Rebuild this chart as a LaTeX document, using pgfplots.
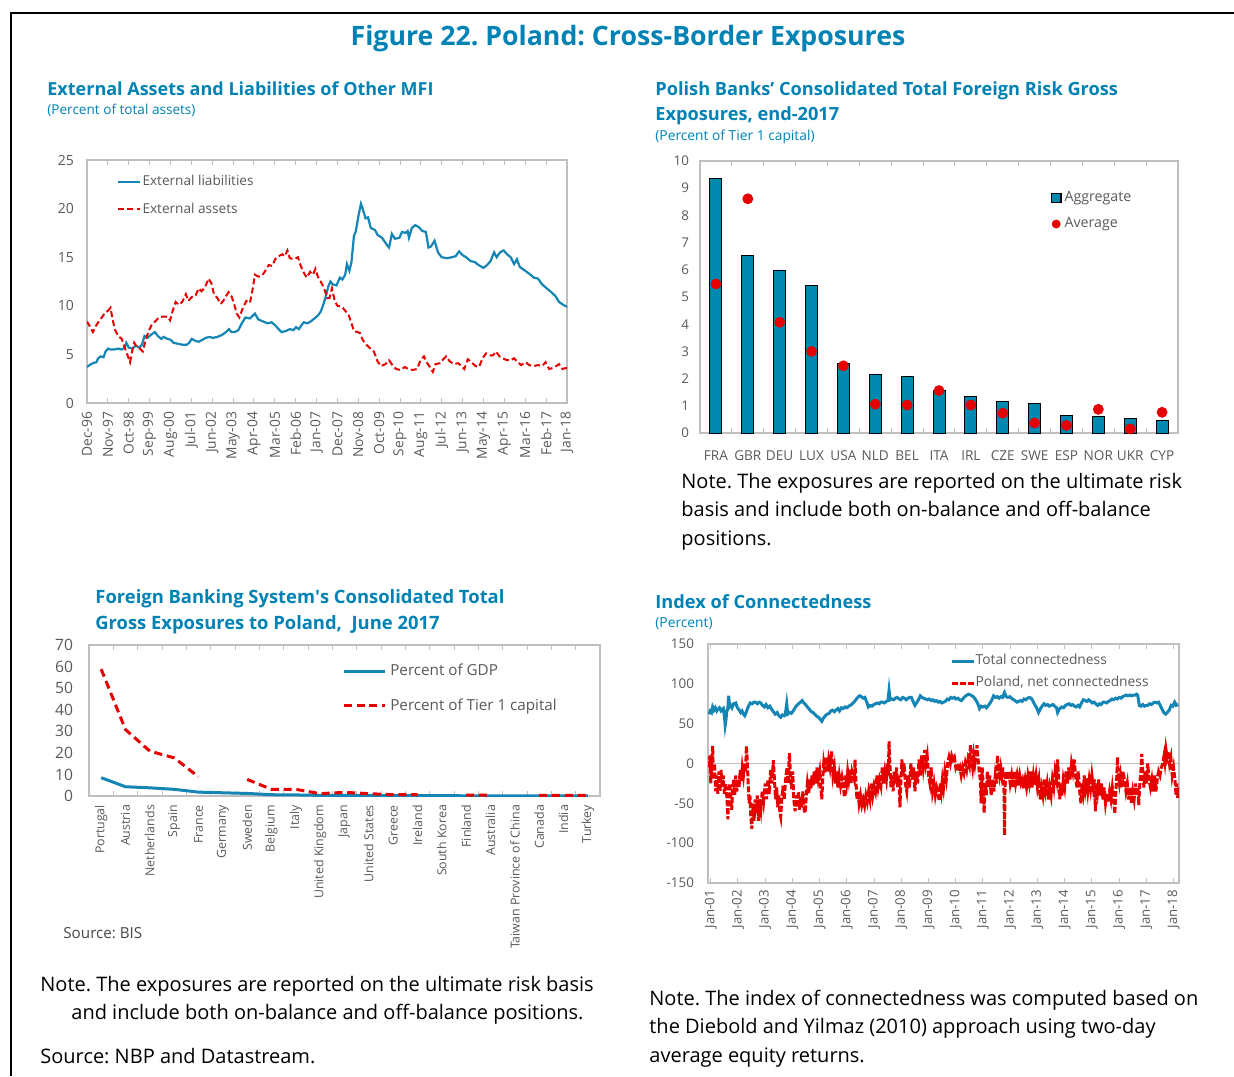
\documentclass[border=0pt]{standalone}
\usepackage{pgfplots}
\pgfplotsset{compat=1.18}
\usepackage{fontspec}
\setmainfont{Open Sans}
\frenchspacing
\definecolor{tblue}{RGB}{0,130,180}
\definecolor{lblue}{RGB}{20,133,180}
\definecolor{barblue}{RGB}{0,137,176}
\definecolor{lred}{RGB}{230,0,0}
\definecolor{tgray}{RGB}{89,89,89}
\definecolor{agray}{RGB}{191,191,191}
\newcommand\fs[1]{\fontsize{#1pt}{1.2\dimexpr #1pt\relax}\selectfont}
\pgfplotsset{
  common/.style={scale only axis, anchor=south west,
    axis line style={draw=agray, line width=0.6pt},
    tick style={draw=agray, line width=0.5pt},
    ticklabel style={text=tgray},
    /pgf/number format/assume math mode=true,
    legend cell align=left,
    clip=true},
}
\begin{document}
\begin{tikzpicture}[x=0.5pt,y=0.5pt]
\useasboundingbox (0,0) rectangle (1234,-1076);
\draw[line width=1pt] (11,-1076) -- (11,-13) -- (1234,-13);

% ---------- titles and notes ----------
\node[anchor=base, text=tblue, font=\bfseries\fs{13.35}, inner sep=0pt] at (628,-45) {Figure 22. Poland: Cross-Border Exposures};
\node[anchor=base west, text=tblue, font=\bfseries\fs{9.0}, inner sep=0pt] at (47,-95) {External Assets and Liabilities of Other MFI};
\node[anchor=base west, text=tblue, font=\fs{6.8}, inner sep=0pt] at (47,-114) {(Percent of total assets)};
\node[anchor=base west, text=tblue, font=\bfseries\fs{9.1}, inner sep=0pt] at (655,-95) {Polish Banks’ Consolidated Total Foreign Risk Gross};
\node[anchor=base west, text=tblue, font=\bfseries\fs{9.1}, inner sep=0pt] at (655,-120) {Exposures, end-2017};
\node[anchor=base west, text=tblue, font=\fs{6.9}, inner sep=0pt] at (655,-140) {(Percent of Tier 1 capital)};
\node[anchor=base west, font=\fs{10.0}, inner sep=0pt] at (681,-488) {Note. The exposures are reported on the ultimate risk};
\node[anchor=base west, font=\fs{10.0}, inner sep=0pt] at (681,-516) {basis and include both on-balance and off-balance};
\node[anchor=base west, font=\fs{10.0}, inner sep=0pt] at (681,-545) {positions.};
\node[anchor=base west, text=tblue, font=\bfseries\fs{9.2}, inner sep=0pt] at (95,-603) {Foreign Banking System\textquotesingle s Consolidated Total};
\node[anchor=base west, text=tblue, font=\bfseries\fs{9.2}, inner sep=0pt] at (95,-629) {Gross Exposures to Poland,\ \ June 2017};
\node[anchor=base west, text=tgray!80!black, font=\fs{7.6}, inner sep=0pt] at (63,-938) {Source: BIS};
\node[anchor=base west, font=\fs{10.0}, inner sep=0pt] at (40,-991) {Note. The exposures are reported on the ultimate risk basis};
\node[anchor=base west, font=\fs{10.0}, inner sep=0pt] at (71,-1019) {and include both on-balance and off-balance positions.};
\node[anchor=base west, font=\fs{10.0}, inner sep=0pt] at (40,-1063) {Source: NBP and Datastream.};
\node[anchor=base west, text=tblue, font=\bfseries\fs{9.1}, inner sep=0pt] at (655,-608) {Index of Connectedness};
\node[anchor=base west, text=tblue, font=\fs{6.9}, inner sep=0pt] at (655,-627) {(Percent)};
\node[anchor=base west, font=\fs{10.0}, inner sep=0pt] at (649,-1005) {Note. The index of connectedness was computed based on};
\node[anchor=base west, font=\fs{10.0}, inner sep=0pt] at (649,-1033) {the Diebold and Yilmaz (2010) approach using two-day};
\node[anchor=base west, font=\fs{10.0}, inner sep=0pt] at (649,-1062) {average equity returns.};

% ---------- Panel 1 ----------
\begin{axis}[common, at={(43.5pt,-201.5pt)}, width=240pt, height=121.5pt,
  xmin=0, xmax=253, ymin=0, ymax=25, ytick={0,5,...,25},
  xtick={0,11,...,253},
  xticklabels={Dec-96,Nov-97,Oct-98,Sep-99,Aug-00,Jul-01,Jun-02,May-03,Apr-04,Mar-05,Feb-06,Jan-07,Dec-07,Nov-08,Oct-09,Sep-10,Aug-11,Jul-12,Jun-13,May-14,Apr-15,Mar-16,Feb-17,Jan-18},
  x tick label style={rotate=90, anchor=east, font=\fs{6.9}, yshift=0pt, xshift=-1pt},
  y tick label style={font=\fs{7}, xshift=-3pt},
  ytick style={draw=none}, major tick length=2.5pt,
  legend style={draw=none, fill=none, at={(0.062,0.955)}, anchor=north west,
    font=\fs{6.8}, text=tgray, row sep=3pt, inner sep=0pt, nodes={inner xsep=0.6pt}},
  legend image code/.code={\draw[#1] (0pt,0pt) -- (11pt,0pt);}]
\addplot[lblue, line width=1.1pt] coordinates {
(0,3.7)(1.3,3.9)(3.1,4.1)(5,4.2)(5.9,4.6)(7.2,4.8)(8.7,4.7)(9.8,5.3)(11.1,5.6)(12.4,5.5)(14.2,5.5)(16.4,5.6)(18.3,5.5)(19.8,5.7)(20.7,6.2)(22,5.7)(23.8,5.6)(25.7,5.9)(27.5,5.7)(29,6.0)(30.3,6.9)(31.8,6.7)(33.6,7.0)(35.8,7.3)(37.3,6.9)(39.2,6.6)(40.4,6.8)(42.3,6.6)(44.1,6.5)(45.6,6.2)(47.8,6.1)(50.2,6.0)(52.6,6.0)(53.9,6.2)(55.2,6.6)(57.1,6.4)(58.9,6.3)(60.8,6.5)(62.6,6.7)(64.5,6.8)(66.3,6.7)(68.7,6.8)(71.1,7.0)(73.3,7.3)(74.8,7.6)(76.1,7.3)(77.9,7.3)(79.8,7.5)(81.6,8.2)(83.5,8.8)(85.9,8.7)(88.5,9.2)(90.3,8.6)(92.7,8.4)(95.1,8.2)(97.3,8.3)(99.2,8.0)(101,7.6)(102.5,7.3)(104.7,7.4)(106.9,7.6)(108.8,7.5)(110.2,7.8)(111.7,7.6)(113,8.0)(114.3,8.3)(116.2,8.2)(118,8.4)(119.9,8.7)(121.7,9.0)(123.2,9.4)(124.7,10.2)(125.9,11.0)(127.2,12.0)(128.3,12.5)(129.6,12.2)(131.5,12.1)(133.3,12.9)(134.6,12.7)(136.1,13.2)(137,14.3)(138.3,13.6)(139.4,14.5)(140.7,17.2)(141.6,17.6)(143.1,19.3)(144.4,20.5)(145.3,20.0)(146.8,19.0)(148.1,19.1)(149.6,18.0)(151.8,17.8)(153.1,17.3)(155.5,17.0)(158.3,16.2)(159.2,16.0)(160.7,17.4)(162.3,16.9)(164.7,17.0)(166,17.6)(167.9,17.5)(169,17.7)(169.7,17.0)(171.2,18.0)(173,18.3)(174.9,18.1)(176.7,17.7)(178.6,17.6)(180,16.0)(181.3,16.1)(183.2,16.7)(185,15.5)(186.9,15.0)(189.7,14.9)(192.4,15.0)(194.3,15.1)(196.1,15.6)(198,15.2)(199.8,15.0)(202.2,14.6)(204.4,14.5)(206.3,14.2)(209,13.9)(210.9,14.2)(212.7,14.6)(214.6,15.5)(215.9,15.0)(217.7,15.5)(219.6,15.7)(221.4,15.3)(223.3,15.0)(225.1,14.3)(226.6,14.8)(228.1,14.0)(230.3,13.7)(233.1,13.3)(235.5,12.9)(237.7,12.8)(239.9,12.2)(242.3,11.8)(244.7,11.4)(246.9,11.0)(248.8,10.4)(251,10.1)(253,9.9)};
\addlegendentry{External liabilities}
\addplot[lred, line width=1pt, dash pattern=on 3pt off 1.6pt] coordinates {
(0,8.4)(1.7,7.8)(3.1,7.3)(4.6,7.9)(5.9,8.3)(7.8,8.8)(9.6,9.3)(11.1,9.5)(12.4,9.8)(13.3,8.8)(14.6,7.6)(16.4,6.9)(18.3,6.6)(20.1,5.6)(21.6,4.8)(22.7,4.2)(23.8,5.3)(24.9,6.2)(26.4,5.7)(27.9,5.6)(29.4,5.3)(30.8,6.4)(32.3,7.3)(34.2,8.1)(36,8.4)(37.9,8.8)(40.1,8.9)(42.3,8.9)(43.8,8.5)(45.2,9.5)(46.7,10.4)(48.4,10.1)(50.2,10.4)(52.1,11.2)(53.4,10.5)(55.2,10.9)(57.1,11.0)(58.9,11.8)(60.4,11.5)(62.2,11.9)(64.1,12.8)(65.6,12.3)(66.9,11.2)(68.7,10.8)(70.5,10.2)(71.8,10.5)(73.3,11.0)(74.6,11.4)(76.1,11.0)(77.4,10.3)(78.9,9.2)(80.3,8.8)(82.2,9.8)(84,10.5)(85.9,10.3)(87.2,11.6)(88.5,13.2)(90.3,13.0)(92.2,13.1)(94,13.6)(95.8,14.2)(97.7,14.1)(99.2,14.8)(101,15.1)(102.9,15.3)(104.3,15.1)(105.6,15.7)(106.9,14.9)(108.8,14.8)(111.2,15.0)(112.5,14.2)(114,13.5)(115.8,12.9)(117.6,13.5)(119.1,13.2)(120.4,13.8)(121.7,13.0)(123.2,12.5)(125,11.8)(126.5,10.8)(127.8,10.8)(129.1,11.8)(130.6,10.5)(132,10.0)(134.3,9.9)(136.1,9.5)(138,9.0)(139.4,8.2)(140.7,7.4)(142.6,7.3)(143.9,7.2)(145.3,6.5)(147.2,6.0)(149.4,5.6)(151.2,5.3)(153.1,4.3)(154.9,3.8)(157.3,4.0)(159.2,4.4)(161,3.9)(162.9,3.5)(165.3,3.4)(167.5,3.7)(169.3,3.5)(171.6,3.4)(174,3.5)(175.8,4.4)(177.6,4.8)(179,4.2)(180.4,3.8)(182.3,3.2)(183.7,4.0)(186,4.1)(187.8,4.5)(189.3,4.8)(191.1,4.3)(193.4,4.0)(195.6,4.1)(197.4,3.8)(198.9,3.5)(200.7,4.5)(202.6,4.2)(204.8,3.8)(206.6,3.7)(208.5,4.6)(210.3,5.1)(212.2,4.9)(214,4.9)(215.5,5.3)(217.4,4.8)(219.2,4.6)(221.4,4.4)(223.3,4.4)(225.1,4.6)(227,4.2)(228.8,3.9)(231.2,4.2)(233.1,3.9)(235.5,3.8)(237.7,3.9)(239.9,3.8)(241.7,4.2)(243.6,3.5)(245.4,3.6)(247.3,3.8)(248.8,4.0)(250.6,3.5)(252.4,3.6)(253,3.6)};
\addlegendentry{External assets}
\end{axis}

% ---------- Panel 2 ----------
\begin{axis}[common, at={(350pt,-216.5pt)}, width=239pt, height=136pt,
  xmin=-0.5, xmax=14.5, ymin=0, ymax=10, ytick={0,1,...,10},
  xtick={0,...,14},
  xticklabels={FRA,GBR,DEU,LUX,USA,NLD,BEL,ITA,IRL,CZE,SWE,ESP,NOR,UKR,CYP},
  x tick label style={font=\fs{6.8}, yshift=-5.5pt},
  y tick label style={font=\fs{6.7}, xshift=-2pt},
  major tick length=0pt, minor xtick={0.5,1.5,...,13.5}, minor tick length=2.5pt,
  ytick style={draw=none},
  legend style={draw=none, fill=none, at={(0.733,0.905)}, anchor=north west,
    font=\fs{7.1}, text=tgray, row sep=2.5pt, inner sep=0pt, nodes={inner xsep=1.5pt}}]
\addplot[ybar, bar width=6pt, fill=barblue, draw=black, line width=0.5pt,
  legend image code/.code={\draw[fill=barblue,draw=black,line width=0.6pt] (0pt,-2.3pt) rectangle (4.8pt,2.3pt);}]
  coordinates {(0,9.34)(1,6.51)(2,5.98)(3,5.41)(4,2.55)(5,2.15)(6,2.06)(7,1.56)(8,1.34)(9,1.17)(10,1.10)(11,0.66)(12,0.60)(13,0.55)(14,0.45)};
\addlegendentry{Aggregate}
\addplot[only marks, mark=*, mark size=2.5pt, color=lred,
  legend image code/.code={\fill[lred] (2.4pt,0pt) circle (2pt);}]
  coordinates {(0,5.48)(1,8.61)(2,4.07)(3,3.00)(4,2.47)(5,1.06)(6,1.03)(7,1.56)(8,1.03)(9,0.73)(10,0.37)(11,0.28)(12,0.87)(13,0.15)(14,0.76)};
\addlegendentry{Average}
\end{axis}

% ---------- Panel 3 ----------
\begin{axis}[common, at={(44.5pt,-398pt)}, width=255.5pt, height=75.5pt,
  xmin=-0.5, xmax=20.5, ymin=0, ymax=70, ytick={0,10,...,70},
  xtick={0,...,20},
  xticklabels={Portugal,Austria,Netherlands,Spain,France,Germany,Sweden,Belgium,Italy,United Kingdom,Japan,United States,Greece,Ireland,South Korea,Finland,Australia,Taiwan Province of China,Canada,India,Turkey},
  x tick label style={rotate=90, anchor=east, font=\fs{6.2}, xshift=-1pt},
  y tick label style={font=\fs{7.8}, xshift=-4.5pt},
  major tick length=0pt, minor xtick={0.5,1.5,...,19.5}, minor tick length=2.5pt,
  ytick style={draw=none},
  unbounded coords=jump,
  legend style={draw=none, fill=none, at={(0.495,0.905)}, anchor=north west,
    font=\fs{7.6}, text=tgray, row sep=6pt, inner sep=0pt},
  legend image code/.code={\draw[#1] (0pt,0pt) -- (20.5pt,0pt);}]
\addplot[lblue, line width=1.5pt] coordinates {
(0,8.5)(1,4.3)(2,3.8)(3,3.1)(4,1.8)(5,1.5)(6,1.2)(7,0.6)(8,0.5)(9,0.3)(10,0.3)(11,0.3)(12,0.2)(13,0.2)(14,0.2)(15,0.1)(16,0.1)(17,0.1)(18,0.1)(19,0.1)(20,0.1)};
\addlegendentry{Percent of GDP}
\addplot[lred, line width=1.5pt, dash pattern=on 4pt off 2.4pt] coordinates {
(0,58.8)(1,30.8)(2,20.8)(3,17.7)(4,8.9)(5,nan)(6,7.7)(7,3.1)(8,3.1)(9,1.1)(10,1.7)(11,1.1)(12,0.6)(13,0.6)(14,nan)(15,0.4)(16,0.4)(17,nan)(18,0.3)(19,0.3)(20,0.3)};
\addlegendentry{Percent of Tier 1 capital}
\end{axis}

% ---------- Panel 4 ----------
\begin{axis}[common, at={(354pt,-441.5pt)}, width=235.5pt, height=119.5pt,
  xmin=2000.9, xmax=2018.2, ymin=-150, ymax=150, ytick={-150,-100,...,150},
  xtick={2001,...,2018},
  xticklabels={Jan-01,Jan-02,Jan-03,Jan-04,Jan-05,Jan-06,Jan-07,Jan-08,Jan-09,Jan-10,Jan-11,Jan-12,Jan-13,Jan-14,Jan-15,Jan-16,Jan-17,Jan-18},
  x tick label style={rotate=90, anchor=east, font=\fs{6.6}},
  y tick label style={font=\fs{6.7}, xshift=-3.5pt},
  ytick style={draw=none}, major tick length=2.5pt,
  extra y ticks={0}, extra y tick labels={}, extra y tick style={grid=major, major grid style={agray, line width=0.6pt}},
  legend style={draw=none, fill=none, at={(0.513,0.975)}, anchor=north west,
    font=\fs{6.9}, text=tgray, row sep=0.3pt, inner sep=0pt, nodes={inner xsep=0.3pt}},
  legend image code/.code={\draw[#1] (0pt,0pt) -- (11pt,0pt);}]
\addplot[lblue, line width=1.5pt] coordinates {
(2000.93,62)(2000.98,66)(2001.03,64)(2001.07,71)(2001.12,67)(2001.17,70)(2001.22,66)(2001.26,68)(2001.32,70)(2001.38,66)(2001.46,69)(2001.50,60)(2001.53,48)(2001.56,55)(2001.59,66)(2001.63,70)(2001.66,85)(2001.69,72)(2001.72,74)(2001.78,70)(2001.84,75)(2001.92,76)(2001.98,70)(2002.05,67)(2002.10,64)(2002.15,66)(2002.20,62)(2002.25,60)(2002.30,64)(2002.36,70)(2002.45,76)(2002.52,75)(2002.58,77)(2002.64,77)(2002.72,75)(2002.78,77)(2002.84,76)(2002.90,73)(2002.97,71)(2003.03,74)(2003.10,70)(2003.17,72)(2003.24,68)(2003.30,65)(2003.37,62)(2003.44,64)(2003.50,60)(2003.57,58)(2003.63,61)(2003.70,60)(2003.74,62)(2003.79,75)(2003.83,62)(2003.90,64)(2003.96,63)(2004.03,66)(2004.10,70)(2004.16,73)(2004.22,75)(2004.30,77)(2004.36,79)(2004.42,76)(2004.48,74)(2004.55,71)(2004.62,68)(2004.70,65)(2004.76,64)(2004.82,62)(2004.90,59)(2004.96,58)(2005.01,56)(2005.08,53)(2005.14,57)(2005.21,60)(2005.28,62)(2005.35,63)(2005.41,66)(2005.47,67)(2005.54,65)(2005.60,67)(2005.67,69)(2005.73,66)(2005.80,70)(2005.87,69)(2005.93,71)(2006.00,70)(2006.07,72)(2006.13,73)(2006.20,75)(2006.26,77)(2006.33,80)(2006.40,83)(2006.46,85)(2006.53,84)(2006.60,82)(2006.66,83)(2006.72,78)(2006.79,71)(2006.86,73)(2006.92,72)(2006.99,74)(2007.05,75)(2007.12,76)(2007.19,75)(2007.25,77)(2007.32,77)(2007.38,76)(2007.45,78)(2007.51,79)(2007.55,92)(2007.59,80)(2007.65,81)(2007.72,80)(2007.78,82)(2007.84,83)(2007.92,81)(2007.98,80)(2008.05,83)(2008.11,82)(2008.18,80)(2008.25,82)(2008.31,83)(2008.37,83)(2008.43,78)(2008.50,73)(2008.56,76)(2008.63,80)(2008.70,85)(2008.76,83)(2008.82,82)(2008.89,81)(2008.96,80)(2009.03,81)(2009.10,79)(2009.16,80)(2009.23,78)(2009.29,79)(2009.36,77)(2009.42,78)(2009.49,76)(2009.55,77)(2009.62,78)(2009.69,81)(2009.75,80)(2009.82,83)(2009.88,82)(2009.95,83)(2010.01,81)(2010.08,82)(2010.14,80)(2010.21,79)(2010.28,82)(2010.34,84)(2010.41,86)(2010.47,87)(2010.54,86)(2010.60,85)(2010.67,83)(2010.73,80)(2010.80,76)(2010.87,69)(2010.93,72)(2011.00,71)(2011.07,72)(2011.13,70)(2011.20,73)(2011.26,76)(2011.33,80)(2011.39,85)(2011.46,83)(2011.53,84)(2011.59,82)(2011.66,84)(2011.72,83)(2011.79,89)(2011.85,84)(2011.92,83)(2011.98,84)(2012.05,82)(2012.12,80)(2012.18,79)(2012.25,77)(2012.31,78)(2012.38,79)(2012.44,78)(2012.51,81)(2012.57,80)(2012.64,82)(2012.71,83)(2012.77,82)(2012.84,78)(2012.90,74)(2012.97,70)(2013.04,64)(2013.10,68)(2013.17,72)(2013.24,75)(2013.30,73)(2013.37,74)(2013.43,72)(2013.50,73)(2013.57,74)(2013.63,72)(2013.70,70)(2013.74,64)(2013.80,68)(2013.89,71)(2013.96,70)(2014.03,73)(2014.09,74)(2014.16,75)(2014.23,73)(2014.29,74)(2014.36,72)(2014.42,71)(2014.49,73)(2014.55,71)(2014.62,76)(2014.68,80)(2014.75,79)(2014.82,78)(2014.88,80)(2014.95,78)(2015.01,76)(2015.08,77)(2015.14,75)(2015.21,73)(2015.28,75)(2015.34,74)(2015.41,77)(2015.47,77)(2015.54,76)(2015.61,78)(2015.67,79)(2015.74,81)(2015.80,80)(2015.87,82)(2015.93,81)(2016.00,83)(2016.07,82)(2016.13,84)(2016.20,85)(2016.26,86)(2016.33,85)(2016.40,86)(2016.46,85)(2016.53,86)(2016.59,86)(2016.64,87)(2016.68,86)(2016.71,80)(2016.74,73)(2016.80,72)(2016.87,74)(2016.93,72)(2017.00,73)(2017.05,73)(2017.12,75)(2017.19,74)(2017.25,76)(2017.32,77)(2017.38,76)(2017.45,77)(2017.51,73)(2017.58,68)(2017.64,64)(2017.71,62)(2017.77,64)(2017.84,67)(2017.91,73)(2017.97,72)(2018.04,77)(2018.10,73)(2018.17,74)};
\addlegendentry{Total connectedness}
\addplot[lred, line width=1.5pt, dash pattern=on 3pt off 1pt] coordinates {
(2000.93,-5)(2000.97,10)(2001.00,-25)(2001.04,5)(2001.07,22)(2001.10,-20)(2001.14,0)(2001.18,-35)(2001.22,-15)(2001.26,-38)(2001.30,-10)(2001.34,-35)(2001.38,-8)(2001.42,-30)(2001.46,-15)(2001.50,-38)(2001.55,-25)(2001.60,-45)(2001.63,-70)(2001.66,-40)(2001.70,-25)(2001.74,-48)(2001.77,-58)(2001.80,-35)(2001.84,-20)(2001.88,-40)(2001.92,-15)(2001.96,-35)(2002.00,-20)(2002.04,-30)(2002.08,-8)(2002.12,-22)(2002.16,-5)(2002.20,-15)(2002.24,0)(2002.28,-10)(2002.31,22)(2002.34,5)(2002.38,-30)(2002.41,-50)(2002.44,-40)(2002.47,-65)(2002.51,-82)(2002.55,-50)(2002.59,-72)(2002.63,-45)(2002.67,-62)(2002.71,-40)(2002.75,-72)(2002.79,-45)(2002.84,-58)(2002.89,-35)(2002.94,-48)(2003.00,-25)(2003.05,-45)(2003.10,-20)(2003.15,-38)(2003.20,-8)(2003.25,-25)(2003.30,4)(2003.34,-20)(2003.38,-45)(2003.42,-30)(2003.46,-55)(2003.50,-40)(2003.54,-62)(2003.57,-67)(2003.61,-45)(2003.65,-28)(2003.70,-45)(2003.75,-20)(2003.80,-5)(2003.84,-25)(2003.89,13)(2003.93,-15)(2003.97,-32)(2004.01,-10)(2004.05,-45)(2004.10,-60)(2004.14,-40)(2004.18,-55)(2004.22,-35)(2004.26,-58)(2004.30,-42)(2004.34,-55)(2004.38,-35)(2004.43,-58)(2004.47,-62)(2004.51,-40)(2004.55,-25)(2004.60,-38)(2004.64,-20)(2004.68,-32)(2004.72,-15)(2004.76,-28)(2004.80,-10)(2004.85,-25)(2004.90,-5)(2004.95,-20)(2005.00,-10)(2005.04,-30)(2005.08,-45)(2005.12,-15)(2005.15,0)(2005.20,-12)(2005.24,8)(2005.28,-10)(2005.33,5)(2005.38,-5)(2005.44,15)(2005.49,-15)(2005.54,-5)(2005.58,-25)(2005.63,-10)(2005.67,-30)(2005.72,-15)(2005.77,-28)(2005.82,-18)(2005.87,-30)(2005.91,-42)(2005.95,-15)(2005.99,-25)(2006.03,-10)(2006.07,-20)(2006.11,-8)(2006.15,-25)(2006.19,-10)(2006.23,-15)(2006.27,-20)(2006.30,5)(2006.33,-20)(2006.37,-45)(2006.41,-35)(2006.45,-50)(2006.50,-40)(2006.55,-52)(2006.60,-45)(2006.65,-53)(2006.70,-40)(2006.75,-48)(2006.80,-35)(2006.85,-45)(2006.90,-25)(2006.95,-40)(2007.00,-28)(2007.05,-35)(2007.10,-15)(2007.15,-30)(2007.20,-20)(2007.25,-28)(2007.30,-5)(2007.35,-25)(2007.40,-10)(2007.45,-20)(2007.49,0)(2007.52,-15)(2007.55,28)(2007.58,0)(2007.62,-30)(2007.66,-15)(2007.70,-35)(2007.74,-10)(2007.78,-25)(2007.82,-5)(2007.87,-30)(2007.91,-15)(2007.95,-55)(2007.98,-25)(2008.02,5)(2008.06,-15)(2008.10,0)(2008.15,-25)(2008.20,-35)(2008.25,-15)(2008.30,-30)(2008.35,0)(2008.40,-20)(2008.45,-5)(2008.50,-35)(2008.55,-10)(2008.60,-25)(2008.65,5)(2008.70,-15)(2008.75,10)(2008.80,-5)(2008.86,17)(2008.90,0)(2008.95,10)(2009.00,-15)(2009.05,-25)(2009.10,-5)(2009.15,-35)(2009.20,-25)(2009.25,-40)(2009.30,-30)(2009.35,-36)(2009.39,-47)(2009.43,-25)(2009.47,-35)(2009.51,-20)(2009.55,-30)(2009.60,-10)(2009.65,-20)(2009.70,0)(2009.75,8)(2009.80,0)(2009.85,10)(2009.90,5)(2009.95,8)(2010.00,-5)(2010.05,0)(2010.10,-10)(2010.15,-5)(2010.20,-15)(2010.25,-5)(2010.30,-12)(2010.35,0)(2010.40,-8)(2010.45,5)(2010.50,-2)(2010.54,23)(2010.58,5)(2010.62,-5)(2010.66,10)(2010.70,0)(2010.74,12)(2010.78,23)(2010.82,5)(2010.86,-10)(2010.90,-20)(2010.93,-50)(2010.97,-5)(2011.01,-30)(2011.04,-62)(2011.08,-25)(2011.12,-40)(2011.16,-10)(2011.20,-30)(2011.25,-15)(2011.30,-40)(2011.35,-20)(2011.40,-35)(2011.45,-15)(2011.50,-25)(2011.53,10)(2011.57,-5)(2011.61,-15)(2011.65,-5)(2011.69,-15)(2011.73,-5)(2011.77,-30)(2011.79,-90)(2011.81,-30)(2011.85,-10)(2011.90,-20)(2011.95,-10)(2012.00,-25)(2012.05,-15)(2012.10,-30)(2012.15,-10)(2012.20,-25)(2012.25,-15)(2012.30,-28)(2012.35,-15)(2012.40,-25)(2012.45,-20)(2012.50,-32)(2012.55,-20)(2012.60,-30)(2012.65,-15)(2012.70,-25)(2012.75,-10)(2012.80,-30)(2012.85,-15)(2012.90,-28)(2012.95,-15)(2013.00,-30)(2013.05,-20)(2013.10,-45)(2013.15,-30)(2013.20,-40)(2013.25,-20)(2013.30,-35)(2013.35,-25)(2013.40,-45)(2013.45,-30)(2013.50,-40)(2013.55,-20)(2013.60,-30)(2013.65,-10)(2013.70,-20)(2013.74,5)(2013.78,-20)(2013.82,-45)(2013.86,-25)(2013.90,-40)(2013.95,-20)(2014.00,-30)(2014.05,-10)(2014.10,-25)(2014.15,-5)(2014.20,-20)(2014.25,0)(2014.30,-10)(2014.35,5)(2014.40,-15)(2014.45,-30)(2014.50,-10)(2014.55,-35)(2014.60,-50)(2014.64,-25)(2014.68,-35)(2014.72,-15)(2014.76,-30)(2014.80,-18)(2014.85,-35)(2014.90,-20)(2014.95,-32)(2015.00,-15)(2015.05,-30)(2015.09,-20)(2015.13,-60)(2015.17,-25)(2015.21,-35)(2015.25,-20)(2015.30,-40)(2015.35,-25)(2015.40,-45)(2015.45,-30)(2015.50,-50)(2015.55,-38)(2015.60,-48)(2015.65,-35)(2015.70,-45)(2015.75,-30)(2015.80,-45)(2015.84,-63)(2015.88,-35)(2015.91,-20)(2015.94,8)(2015.97,-15)(2016.01,-25)(2016.05,-15)(2016.10,-30)(2016.15,-10)(2016.20,-22)(2016.25,-35)(2016.30,-25)(2016.35,-45)(2016.40,-30)(2016.45,-50)(2016.50,-35)(2016.55,-45)(2016.60,-25)(2016.65,-40)(2016.69,-30)(2016.72,-52)(2016.76,-25)(2016.80,-10)(2016.83,12)(2016.87,-10)(2016.91,-30)(2016.95,-10)(2017.00,-25)(2017.05,0)(2017.10,-20)(2017.15,-30)(2017.20,-20)(2017.25,-35)(2017.30,-15)(2017.35,-35)(2017.40,-20)(2017.45,-10)(2017.50,-15)(2017.55,-5)(2017.60,0)(2017.65,10)(2017.68,2)(2017.72,18)(2017.76,8)(2017.80,15)(2017.85,0)(2017.90,8)(2017.95,-15)(2018.00,-5)(2018.05,-20)(2018.09,-40)(2018.12,-25)(2018.15,-43)(2018.19,-30)};
\addlegendentry{Poland, net connectedness}
\end{axis}
\end{tikzpicture}
\end{document}
